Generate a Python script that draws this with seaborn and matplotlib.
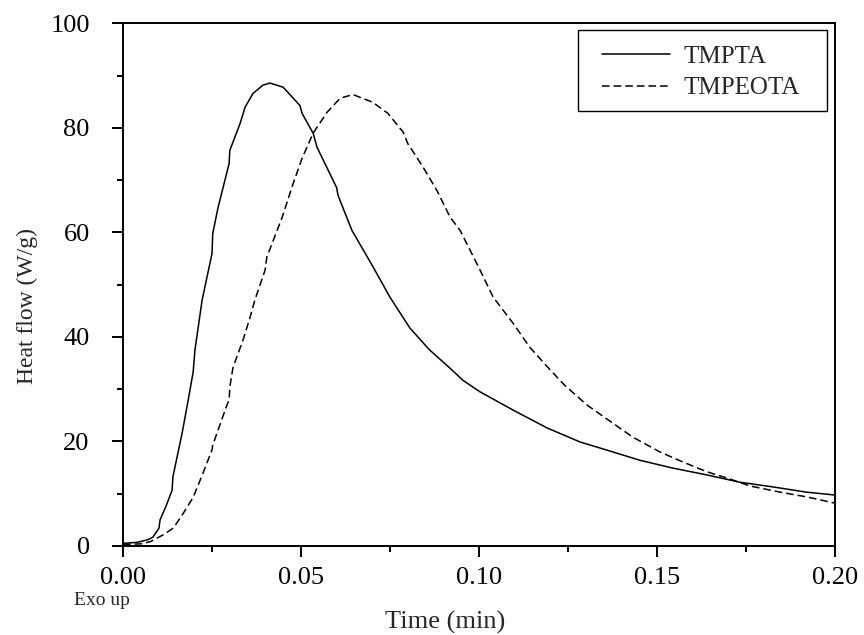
import numpy as np
import pandas as pd
import matplotlib
matplotlib.use("Agg")
import matplotlib.pyplot as plt
from matplotlib.patches import Rectangle
import seaborn as sns

# valores
time_tmpta = [0.000, 0.004, 0.007, 0.0084, 0.0101, 0.0104, 0.0120, 0.0138, 0.0140, 0.0166,
              0.0183, 0.0197, 0.0202, 0.0222, 0.0250, 0.0252, 0.0267, 0.0298, 0.0300, 0.0329,
              0.0343, 0.0365, 0.0393, 0.0413, 0.0450, 0.0497, 0.0503, 0.0534, 0.0545, 0.0600,
              0.0604, 0.0643, 0.0700, 0.0750, 0.0806, 0.0860, 0.0919, 0.0955, 0.1003, 0.1040,
              0.1096, 0.1191, 0.1284, 0.1376, 0.1452, 0.1545, 0.1640, 0.1733, 0.1826, 0.1920,
              0.2000]
heat_tmpta = [0.5, 0.7, 1.2, 1.7, 3.4, 5.0, 7.5, 10.7, 13.2, 21.6,
              27.9, 33.3, 37.5, 47.0, 56.0, 59.8, 64.8, 73.2, 75.7, 80.9,
              84.0, 86.6, 88.2, 88.6, 87.8, 84.3, 82.8, 79.0, 76.3, 68.6,
              67.1, 60.4, 53.7, 47.6, 41.7, 37.6, 34.0, 31.7, 29.5, 28.1,
              26.0, 22.6, 19.9, 18.0, 16.4, 14.9, 13.6, 12.2, 11.3, 10.3,
              9.75]

time_tmpeota = [0.000, 0.005, 0.0076, 0.0112, 0.0141, 0.0166, 0.0197, 0.0225, 0.0250, 0.0252,
                0.0292, 0.0298, 0.0300, 0.0309, 0.0337, 0.0357, 0.0370, 0.0399, 0.0404, 0.0447,
                0.0478, 0.0503, 0.0534, 0.0573, 0.0610, 0.0646, 0.0702, 0.0744, 0.0787, 0.0800,
                0.0843, 0.0882, 0.0919, 0.0947, 0.1003, 0.1040, 0.1096, 0.1143, 0.1200, 0.1240,
                0.1303, 0.1376, 0.1433, 0.1508, 0.1565, 0.1640, 0.1697, 0.1760, 0.1846, 0.1920,
                0.2000]
heat_tmpeota = [0.3, 0.4, 0.8, 2.1, 3.4, 5.9, 9.3, 14.0, 18.4, 19.3,
                27.0, 27.9, 30.4, 34.2, 39.4, 43.8, 47.0, 52.8, 55.3, 62.9,
                69.4, 74.2, 79.0, 83.0, 85.7, 86.4, 84.9, 82.8, 79.2, 77.0,
                72.5, 68.0, 62.9, 60.4, 52.8, 47.6, 42.6, 38.0, 33.7, 30.8,
                27.0, 23.5, 20.8, 18.0, 16.3, 14.2, 13.0, 11.5, 10.3, 9.4,
                8.2]

samples = ["TMPTA", "TMPEOTA"]

df = pd.concat([
    pd.DataFrame({"time": time_tmpta, "heat": heat_tmpta, "sample": samples[0]}),
    pd.DataFrame({"time": time_tmpeota, "heat": heat_tmpeota, "sample": samples[1]}),
], ignore_index=True)

sns.set_theme(style="ticks")
plt.rcParams["font.family"] = ["Liberation Serif", "DejaVu Serif"]
plt.rcParams["axes.linewidth"] = 1.4
plt.rcParams["axes.edgecolor"] = "black"

fig, ax = plt.subplots(figsize=(8.64, 6.35), dpi=100)
fig.subplots_adjust(left=0.1424, right=0.9664, bottom=0.1402, top=0.963)

sns.lineplot(
    data=df, x="time", y="heat", style="sample",
    dashes={"TMPTA": "", "TMPEOTA": (5, 2.6)},
    color="black", linewidth=1.1, estimator=None, sort=False,
    legend=False, ax=ax
)

ax.set_xlim(0, 0.20)
ax.set_ylim(0, 100)
ax.set_xticks(np.arange(0, 0.201, 0.05))
ax.set_xticks(np.arange(0, 0.201, 0.025), minor=True)
ax.set_xticklabels([f"{v:.2f}" for v in np.arange(0, 0.201, 0.05)])
ax.set_yticks(np.arange(0, 101, 20))
ax.set_yticks(np.arange(0, 101, 10), minor=True)

ax.tick_params(axis="both", which="both", direction="out", colors="black", width=1.4)
ax.tick_params(axis="both", which="major", length=8, labelsize=19)
ax.tick_params(axis="both", which="minor", length=4.5)
ax.tick_params(axis="x", which="major", pad=7)
ax.tick_params(axis="y", which="major", pad=16)

ax.set_xlabel("Time (min)", fontsize=19)
ax.set_ylabel("Heat flow (W/g)", fontsize=17)
ax.xaxis.set_label_coords(0.452, -0.124)
ax.yaxis.set_label_coords(-0.12, 0.459)

ax.text(-0.03, -0.105, "Exo up", transform=ax.transAxes, ha="center", va="center", fontsize=14)

# leyenda sin marco + recuadro aparte (la caja del original es más ancha que alta)
leg = ax.legend(
    handles=ax.lines[:2], labels=samples,
    loc="upper left", bbox_to_anchor=(0.6728, 0.958), borderaxespad=0,
    fontsize=18, frameon=False, borderpad=0,
    handlelength=2.72, handletextpad=0.52, labelspacing=0.36
)
ax.add_patch(Rectangle((0.639, 0.8317), 0.3498, 0.1568, transform=ax.transAxes,
                       fill=False, edgecolor="black", linewidth=1.0, zorder=5))

fig.savefig("out.png", dpi=100)
